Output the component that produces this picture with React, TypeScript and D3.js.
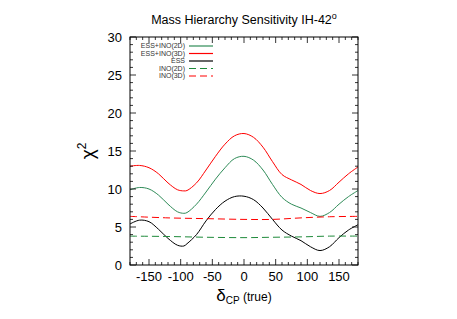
import React, { useEffect, useRef } from 'react';
import * as d3 from 'd3';

const deltaCP = [-180, -165, -150, -135, -120, -105, -95, -90, -75, -60, -45, -30, -15, 0, 15, 30, 45, 60, 75, 90, 105, 120, 135, 150, 165, 180];
const ess2D = [9.9, 10.2, 10.0, 9.2, 8.0, 7.0, 6.8, 6.9, 8.0, 9.6, 11.3, 12.8, 14.0, 14.3, 13.8, 12.5, 10.6, 8.9, 8.0, 7.5, 6.9, 6.4, 6.9, 8.0, 9.0, 9.8];
const ess3D = [13.0, 13.1, 12.8, 12.0, 10.8, 9.9, 9.75, 9.8, 10.8, 12.5, 14.3, 15.9, 17.0, 17.3, 16.8, 15.5, 13.6, 11.9, 11.2, 10.6, 9.8, 9.4, 9.8, 10.9, 12.0, 12.9];
const essOnly = [5.4, 5.9, 5.7, 4.7, 3.5, 2.6, 2.5, 2.8, 4.0, 5.8, 7.3, 8.4, 9.0, 9.05, 8.6, 7.5, 6.0, 4.6, 3.8, 3.2, 2.4, 1.9, 2.4, 3.6, 4.6, 5.3];
const inoX = [-180, -120, -60, 0, 45, 90, 135, 180];
const ino3D = [6.4, 6.2, 6.1, 6.0, 6.0, 6.2, 6.35, 6.4];
const ino2D = [3.8, 3.75, 3.65, 3.6, 3.65, 3.7, 3.8, 3.8];

const xTicks = [-150, -100, -50, 0, 50, 100, 150];
const yTicks = [0, 5, 10, 15, 20, 25, 30];

const series = [
  { name: 'ESS+INO(2D)', xs: deltaCP, ys: ess2D, color: '#2e8b57', dash: '' },
  { name: 'ESS+INO(3D)', xs: deltaCP, ys: ess3D, color: '#ff0000', dash: '' },
  { name: 'ESS', xs: deltaCP, ys: essOnly, color: '#000000', dash: '' },
  { name: 'INO(2D)', xs: inoX, ys: ino2D, color: '#1e8a3a', dash: '7,4' },
  { name: 'INO(3D)', xs: inoX, ys: ino3D, color: '#ff0000', dash: '7,4' },
];

export default function App() {
  const svgRef = useRef<SVGSVGElement>(null);

  useEffect(() => {
    if (!svgRef.current) return;
    const svg = d3.select(svgRef.current);
    svg.selectAll('*').remove();

    const left = 130, right = 358, top = 37, bottom = 265;
    const font = '"Liberation Sans", Arial, sans-serif';

    const x = d3.scaleLinear().domain([-180, 180]).range([left, right]);
    const y = d3.scaleLinear().domain([0, 30]).range([bottom, top]);

    // Curves
    const line = d3.line<[number, number]>()
      .x(d => x(d[0]))
      .y(d => y(d[1]))
      .curve(d3.curveCatmullRom.alpha(0.5));

    const clip = svg.append('clipPath').attr('id', 'plotclip');
    clip.append('rect').attr('x', left).attr('y', top).attr('width', right - left).attr('height', bottom - top);

    const plot = svg.append('g').attr('clip-path', 'url(#plotclip)');
    series.forEach(s => {
      const pts: [number, number][] = s.xs.map((v, i) => [v, s.ys[i]]);
      plot.append('path')
        .attr('d', line(pts) as string)
        .attr('fill', 'none')
        .attr('stroke', s.color)
        .attr('stroke-width', 1)
        .attr('stroke-dasharray', s.dash || null);
    });

    // Frame
    svg.append('rect')
      .attr('x', left).attr('y', top)
      .attr('width', right - left).attr('height', bottom - top)
      .attr('fill', 'none').attr('stroke', '#000').attr('stroke-width', 1);

    // Ticks (inward, mirrored)
    const ticks = svg.append('g').attr('stroke', '#000').attr('stroke-width', 0.8);
    d3.range(-180, 181, 10).forEach(v => {
      const len = v % 50 === 0 ? 6 : 3;
      ticks.append('line').attr('x1', x(v)).attr('x2', x(v)).attr('y1', bottom).attr('y2', bottom - len);
      ticks.append('line').attr('x1', x(v)).attr('x2', x(v)).attr('y1', top).attr('y2', top + len);
    });
    d3.range(0, 31, 1).forEach(v => {
      const len = v % 5 === 0 ? 6 : 3;
      ticks.append('line').attr('y1', y(v)).attr('y2', y(v)).attr('x1', left).attr('x2', left + len);
      ticks.append('line').attr('y1', y(v)).attr('y2', y(v)).attr('x1', right).attr('x2', right - len);
    });

    // Tick labels
    svg.append('g').selectAll('text').data(xTicks).enter().append('text')
      .attr('x', d => x(d)).attr('y', bottom + 16)
      .attr('text-anchor', 'middle')
      .style('font-family', font).style('font-size', '13px')
      .text(d => String(d));

    svg.append('g').selectAll('text').data(yTicks).enter().append('text')
      .attr('x', left - 8).attr('y', d => y(d)).attr('dy', '0.36em')
      .attr('text-anchor', 'end')
      .style('font-family', font).style('font-size', '13px')
      .text(d => String(d));

    // Title
    const title = svg.append('text')
      .attr('x', 244).attr('y', 24).attr('text-anchor', 'middle')
      .style('font-family', font).style('font-size', '12.5px');
    title.append('tspan').text('Mass Hierarchy Sensitivity IH-42');
    title.append('tspan').attr('dy', -5).style('font-size', '9px').text('o');

    // Y label
    const yl = svg.append('text')
      .attr('transform', `translate(94,151) rotate(-90)`)
      .attr('text-anchor', 'middle')
      .style('font-family', font).style('font-size', '19px');
    yl.append('tspan').text('χ');
    yl.append('tspan').attr('dy', -8).style('font-size', '12px').text('2');

    // X label
    const xl = svg.append('text')
      .attr('x', 244).attr('y', 301).attr('text-anchor', 'middle')
      .style('font-family', font).style('font-size', '17px');
    xl.append('tspan').text('δ');
    xl.append('tspan').attr('dy', 3).style('font-size', '10px').text('CP');
    xl.append('tspan').attr('dy', -3).style('font-size', '12px').text(' (true)');

    // Legend
    const legY = [46, 53.5, 61, 68.5, 76];
    series.forEach((s, i) => {
      svg.append('text')
        .attr('x', 185).attr('y', legY[i]).attr('dy', '0.35em')
        .attr('text-anchor', 'end')
        .style('font-family', font).style('font-size', '7px').style('fill', '#333')
        .text(s.name);
      svg.append('line')
        .attr('x1', 189).attr('x2', 213).attr('y1', legY[i]).attr('y2', legY[i])
        .attr('stroke', s.color).attr('stroke-width', 1.2)
        .attr('stroke-dasharray', s.dash || null);
    });
  }, []);

  return (
    <svg ref={svgRef} width={457} height={319}
      style={{ position: 'absolute', left: 0, top: 0, background: '#fff' }} />
  );
}
